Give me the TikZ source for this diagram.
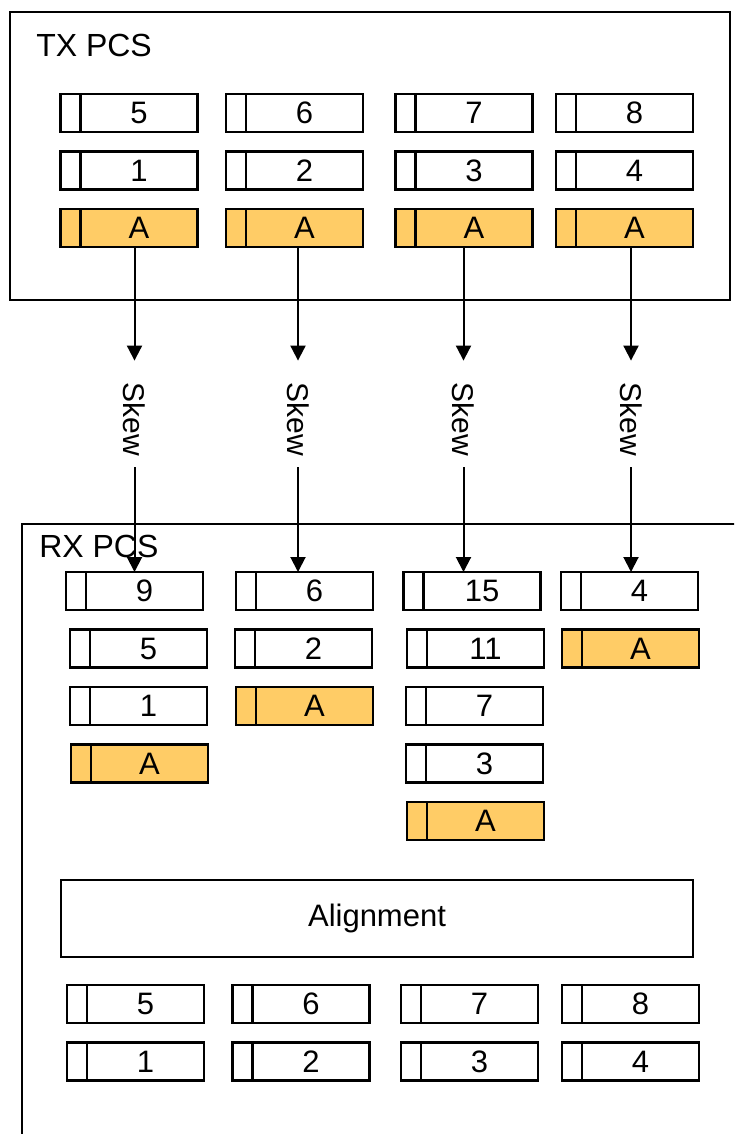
\documentclass[tikz,border=0pt]{standalone}
\usepackage{fontspec}
\setmainfont{Liberation Sans}
\usetikzlibrary{positioning,arrows.meta}
\definecolor{markfill}{RGB}{255,204,102}

\begin{document}
\begin{tikzpicture}[x=1pt,y=-1pt,line width=2.5pt,>={Triangle[width=15pt,length=15pt]},
    lbl/.style={font=\fontsize{31}{37}\selectfont},
    cell/.style={draw,lbl,minimum width=117pt,minimum height=38pt,inner sep=0pt,outer sep=0pt},
    tag/.style={draw,minimum width=20pt,minimum height=38pt,inner sep=0pt,outer sep=0pt},
    plain/.style={},
    am/.style={fill=markfill},
    group/.style={draw,anchor=north west,inner sep=0pt,outer sep=0pt},
    title/.style={font=\fontsize{32}{38}\selectfont,anchor=base west,inner sep=0pt},
    skew/.style={font=\fontsize{30}{36}\selectfont,rotate=-90,inner xsep=10pt,inner ysep=0pt},
    link/.style={->,line width=2pt}]
    \clip (0,0) rectangle (734,1134);

    % transmit side
    \node[group,minimum width=720pt,minimum height=288pt] (tx) at (10,12) {};
    \node[title] (txname) at (35,57) {TX PCS};
    \foreach \x/\hi/\lo [count=\c] in {60.5/5/1,226/6/2,395.5/7/3,556/8/4} {
        \node[cell] (txh\c) at (\x+78.5,113) {\hi};
        \node[tag,left=0pt of txh\c] (txh\c-t) {};
        \node[cell] (txl\c) at (\x+78.5,170.5) {\lo};
        \node[tag,left=0pt of txl\c] (txl\c-t) {};
        \node[cell,am] (txa\c) at (\x+78.5,228) {A};
        \node[tag,am,left=0pt of txa\c] (txa\c-t) {};
    }

    % receive side
    \node[group,minimum width=760pt,minimum height=650pt] (rx) at (22,524) {};
    \node[title] (rxname) at (38,557) {RX PCS};
    \foreach \n/\x/\y/\t/\s in {r9/66/591/9/plain, r5/70/648.5/5/plain, r1/70/706/1/plain, ra1/71/763.5/A/am,
        r6/236/591/6/plain, r2/235/648.5/2/plain, ra2/236/706/A/am,
        r15/403.5/591/15/plain, r11/407/648.5/11/plain, r7/406/706/7/plain, r3/406/763.5/3/plain, ra3/407/821/A/am,
        r4/561/591/4/plain, ra4/562/648.5/A/am} {
        \node[cell,\s] (\n) at (\x+78.5,\y) {\t};
        \node[tag,\s,left=0pt of \n] (\n-t) {};
    }

    \node[draw,lbl,minimum width=632pt,minimum height=77pt] (align) at (377,918.5) {Alignment};
    \foreach \x/\hi/\lo [count=\c] in {67/5/1,232.5/6/2,401/7/3,562/8/4} {
        \node[cell] (outh\c) at (\x+78.5,1004) {\hi};
        \node[tag,left=0pt of outh\c] (outh\c-t) {};
        \node[cell] (outl\c) at (\x+78.5,1061.5) {\lo};
        \node[tag,left=0pt of outl\c] (outl\c-t) {};
    }

    % lanes with skew
    \foreach \x/\top [count=\c] in {134.5/r9,298/r6,463.5/r15,631/r4} {
        \node[skew] (skew\c) at (\x,419.5) {Skew};
        \draw[link,shorten >=11pt] (skew\c |- txa\c.south) -- (skew\c);
        \draw[link] (skew\c) -- (skew\c |- \top.north);
    }
\end{tikzpicture}
\end{document}
